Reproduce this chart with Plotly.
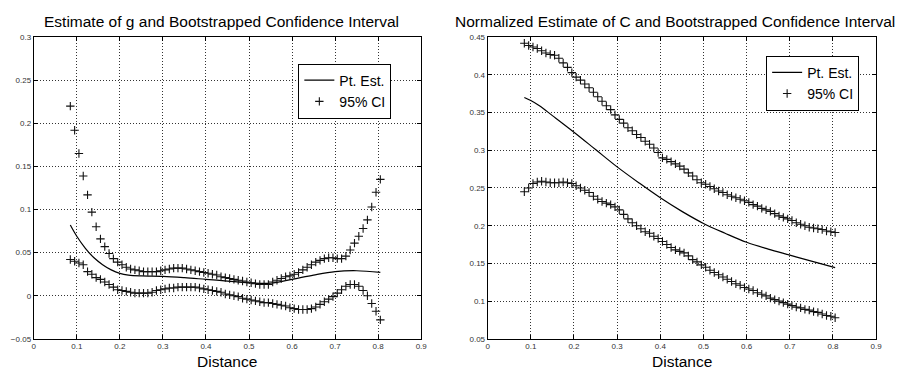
import plotly.graph_objects as go

# ---------------- data ----------------
ci_x = [round(0.085 + 0.01 * i, 3) for i in range(73)]

g_upper = [0.220, 0.192, 0.165, 0.139, 0.117, 0.097, 0.080, 0.066, 0.057, 0.049,
           0.043, 0.039, 0.036, 0.033, 0.031, 0.030, 0.029, 0.028, 0.028, 0.028,
           0.028, 0.029, 0.030, 0.031, 0.032, 0.032, 0.032, 0.031, 0.030, 0.029,
           0.028, 0.027, 0.026, 0.025, 0.024, 0.022, 0.021, 0.020, 0.019, 0.018,
           0.017, 0.016, 0.015, 0.014, 0.013, 0.013, 0.013, 0.016, 0.018, 0.020,
           0.022, 0.023, 0.025, 0.027, 0.030, 0.033, 0.036, 0.039, 0.041, 0.043,
           0.044, 0.044, 0.043, 0.043, 0.046, 0.053, 0.061, 0.069, 0.078, 0.088,
           0.103, 0.120, 0.135]

g_lower = [0.042, 0.040, 0.038, 0.036, 0.028, 0.025, 0.021, 0.019, 0.016, 0.013,
           0.010, 0.007, 0.006, 0.005, 0.004, 0.003, 0.003, 0.003, 0.003, 0.004,
           0.006, 0.007, 0.008, 0.009, 0.009, 0.010, 0.010, 0.010, 0.010, 0.010,
           0.009, 0.008, 0.007, 0.006, 0.005, 0.004, 0.002, 0.001, 0.000, -0.001,
           -0.003, -0.004, -0.005, -0.006, -0.007, -0.008, -0.008, -0.009, -0.010, -0.011,
           -0.012, -0.014, -0.015, -0.016, -0.016, -0.016, -0.015, -0.013, -0.010, -0.007,
           -0.004, -0.001, 0.003, 0.007, 0.011, 0.013, 0.013, 0.011, 0.006, 0.000,
           -0.009, -0.018, -0.028]

g_est_x = [0.085, 0.10, 0.12, 0.14, 0.16, 0.18, 0.20, 0.22, 0.25, 0.30, 0.35,
           0.40, 0.45, 0.50, 0.55, 0.60, 0.65, 0.70, 0.75, 0.805]
g_est = [0.082, 0.069, 0.055, 0.044, 0.036, 0.030, 0.026, 0.024, 0.023, 0.0225, 0.021,
         0.019, 0.017, 0.015, 0.0145, 0.019, 0.024, 0.028, 0.029, 0.027]

c_upper = [0.442, 0.439, 0.437, 0.435, 0.432, 0.429, 0.427, 0.426, 0.422, 0.416,
           0.410, 0.403, 0.397, 0.393, 0.388, 0.383, 0.377, 0.371, 0.365, 0.359,
           0.354, 0.347, 0.341, 0.336, 0.330, 0.326, 0.321, 0.317, 0.312, 0.308,
           0.303, 0.297, 0.290, 0.288, 0.285, 0.282, 0.279, 0.275, 0.270, 0.266,
           0.261, 0.257, 0.255, 0.252, 0.249, 0.246, 0.244, 0.241, 0.239, 0.237,
           0.235, 0.233, 0.231, 0.228, 0.226, 0.223, 0.221, 0.219, 0.216, 0.213,
           0.211, 0.209, 0.207, 0.204, 0.202, 0.200, 0.198, 0.197, 0.196, 0.195,
           0.193, 0.192, 0.191]

c_lower = [0.245, 0.250, 0.256, 0.258, 0.259, 0.258, 0.257, 0.257, 0.257, 0.258,
           0.257, 0.256, 0.253, 0.250, 0.247, 0.244, 0.239, 0.235, 0.232, 0.230,
           0.228, 0.225, 0.221, 0.215, 0.209, 0.204, 0.200, 0.196, 0.192, 0.190,
           0.186, 0.183, 0.179, 0.175, 0.171, 0.168, 0.166, 0.164, 0.160, 0.155,
           0.152, 0.148, 0.145, 0.141, 0.138, 0.135, 0.132, 0.129, 0.126, 0.123,
           0.121, 0.118, 0.116, 0.114, 0.111, 0.109, 0.107, 0.104, 0.102, 0.100,
           0.098, 0.096, 0.094, 0.092, 0.091, 0.089, 0.088, 0.086, 0.085, 0.083,
           0.081, 0.080, 0.078]

c_est_x = [0.085, 0.10, 0.12, 0.15, 0.20, 0.25, 0.30, 0.35, 0.40, 0.45, 0.50,
           0.55, 0.60, 0.65, 0.70, 0.75, 0.805]
c_est = [0.370, 0.366, 0.359, 0.346, 0.324, 0.301, 0.278, 0.257, 0.237, 0.219, 0.203,
         0.190, 0.178, 0.169, 0.161, 0.153, 0.1445]

x_ticks = [0, 0.1, 0.2, 0.3, 0.4, 0.5, 0.6, 0.7, 0.8, 0.9]
x_tick_labels = ["0", "0.1", "0.2", "0.3", "0.4", "0.5", "0.6", "0.7", "0.8", "0.9"]
g_ticks = [-0.05, 0, 0.05, 0.1, 0.15, 0.2, 0.25, 0.3]
g_tick_labels = ["\u22120.05", "0", "0.05", "0.1", "0.15", "0.2", "0.25", "0.3"]
c_ticks = [0.05, 0.1, 0.15, 0.2, 0.25, 0.3, 0.35, 0.4, 0.45]
c_tick_labels = ["0.05", "0.1", "0.15", "0.2", "0.25", "0.3", "0.35", "0.4", "0.45"]

titles = ["Estimate of g and Bootstrapped Confidence Interval",
          "Normalized Estimate of C and Bootstrapped Confidence Interval"]

# ---------------- figure ----------------
FONT = "Liberation Sans, Arial, sans-serif"
fig = go.Figure()

line_style = dict(color="black", width=1.2, shape="spline")
mk = dict(symbol="cross-thin", size=6, line=dict(color="#111", width=1.1), color="#111")

# left panel
fig.add_trace(go.Scatter(x=g_est_x, y=g_est, mode="lines", line=line_style,
                         name="Pt. Est.", xaxis="x", yaxis="y", legend="legend"))
fig.add_trace(go.Scatter(x=ci_x, y=g_upper, mode="markers", marker=mk,
                         name="95% CI", xaxis="x", yaxis="y", legend="legend"))
fig.add_trace(go.Scatter(x=ci_x, y=g_lower, mode="markers", marker=mk,
                         name="95% CI", showlegend=False, xaxis="x", yaxis="y"))
# right panel
fig.add_trace(go.Scatter(x=c_est_x, y=c_est, mode="lines", line=line_style,
                         name="Pt. Est.", xaxis="x2", yaxis="y2", legend="legend2"))
fig.add_trace(go.Scatter(x=ci_x, y=c_upper, mode="markers", marker=mk,
                         name="95% CI", xaxis="x2", yaxis="y2", legend="legend2"))
fig.add_trace(go.Scatter(x=ci_x, y=c_lower, mode="markers", marker=mk,
                         name="95% CI", showlegend=False, xaxis="x2", yaxis="y2"))

W, H = 899, 377
def px_x(p): return p / W
def px_y(p): return 1 - p / H

common_axis = dict(showline=True, linecolor="black", linewidth=1, mirror="ticks",
                   ticks="inside", ticklen=4, tickcolor="black",
                   showgrid=True, gridcolor="#333", griddash="1px,2px", gridwidth=1,
                   zeroline=False, tickfont=dict(size=8, color="#333", family=FONT))

ydom = [px_y(343), px_y(34)]
legend_common = dict(xanchor="left", yanchor="top", bgcolor="white",
                     bordercolor="black", borderwidth=1,
                     font=dict(size=14, family=FONT), itemwidth=30, tracegroupgap=0)
fig.update_layout(
    width=W, height=H, margin=dict(l=0, r=0, t=0, b=0),
    paper_bgcolor="white", plot_bgcolor="white",
    font=dict(family=FONT, color="black"),
    xaxis=dict(domain=[px_x(32), px_x(423)], range=[0, 0.9], tickvals=x_ticks,
               ticktext=x_tick_labels, anchor="y", **common_axis),
    yaxis=dict(domain=ydom, range=[-0.05, 0.3], tickvals=g_ticks,
               ticktext=g_tick_labels, anchor="x", **common_axis),
    xaxis2=dict(domain=[px_x(490), px_x(882)], range=[0, 0.9], tickvals=x_ticks,
                ticktext=x_tick_labels, anchor="y2", **common_axis),
    yaxis2=dict(domain=ydom, range=[0.05, 0.45], tickvals=c_ticks,
                ticktext=c_tick_labels, anchor="x2", **common_axis),
    legend=dict(x=px_x(299), y=px_y(61), **legend_common),
    legend2=dict(x=px_x(771), y=px_y(53), **legend_common),
    annotations=[
        dict(text=titles[0], x=px_x(221), y=px_y(18), xref="paper", yref="paper",
             xanchor="center", yanchor="middle",
             showarrow=False, font=dict(size=15.5, family=FONT)),
        dict(text=titles[1], x=px_x(679), y=px_y(18), xref="paper", yref="paper",
             xanchor="center", yanchor="middle",
             showarrow=False, font=dict(size=15.5, family=FONT)),
        dict(text="Distance", x=px_x(227), y=px_y(366), xref="paper", yref="paper",
             xanchor="center", yanchor="middle",
             showarrow=False, font=dict(size=15.5, family=FONT)),
        dict(text="Distance", x=px_x(686), y=px_y(366), xref="paper", yref="paper",
             xanchor="center", yanchor="middle",
             showarrow=False, font=dict(size=15.5, family=FONT)),
    ],
)

fig.write_html("out.html", config={"displayModeBar": False},
               post_script="document.body.style.margin='0';document.body.style.overflow='hidden';")
